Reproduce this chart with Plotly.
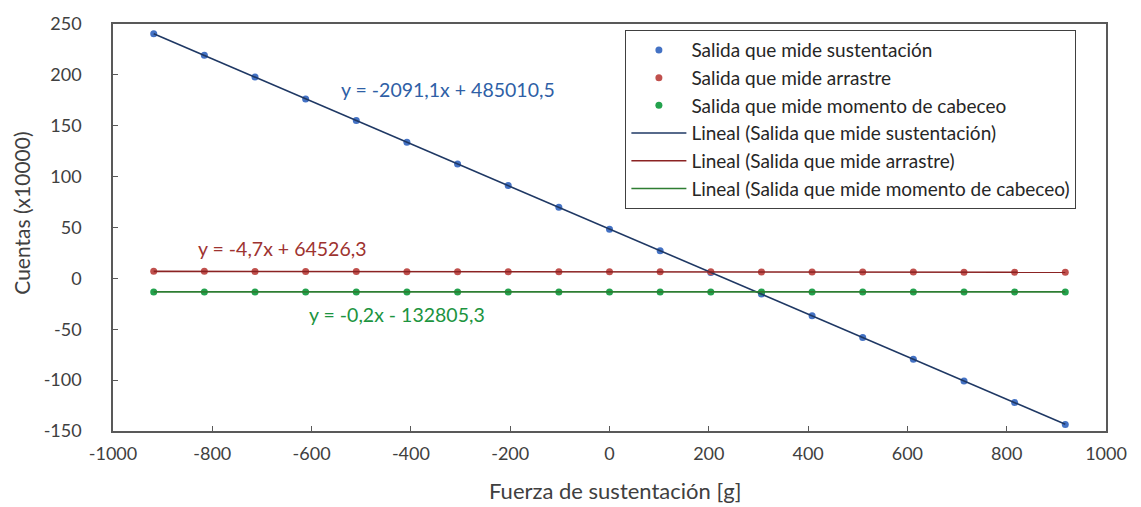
import plotly.graph_objects as go

# Applied load (g)
fuerza = [-918, -816, -714, -612, -510, -408, -306, -204, -102, 0,
          102, 204, 306, 408, 510, 612, 714, 816, 918]

# Bridge outputs, in counts x10000
sustentacion = [240.4, 219.2, 197.8, 176.4, 155.1, 133.9, 112.5, 91.2, 69.9, 48.4,
                27.2, 5.8, -15.4, -36.8, -58.2, -79.4, -100.8, -122.1, -143.5]
arrastre = [6.9, 6.9, 6.8, 6.7, 6.7, 6.6, 6.6, 6.5, 6.5, 6.5,
            6.4, 6.4, 6.3, 6.3, 6.2, 6.2, 6.1, 6.1, 6.0]
cabeceo = [-13.3, -13.3, -13.3, -13.3, -13.3, -13.3, -13.3, -13.3, -13.3, -13.3,
           -13.3, -13.3, -13.3, -13.3, -13.3, -13.3, -13.3, -13.3, -13.3]

# Linear trendline coefficients (counts per g, counts)
pendientes = [-2091.1, -4.7, -0.2]
ordenadas = [485010.5, 64526.3, -132805.3]
ecuaciones = ["y = -2091,1x + 485010,5", "y = -4,7x + 64526,3", "y = -0,2x - 132805,3"]

# Tick labels (plain hyphen for negatives)
x_ticks = [-1000, -800, -600, -400, -200, 0, 200, 400, 600, 800, 1000]
x_ticktext = ["-1000", "-800", "-600", "-400", "-200", "0", "200", "400", "600", "800", "1000"]
y_ticks = [-150, -100, -50, 0, 50, 100, 150, 200, 250]
y_ticktext = ["-150", "-100", "-50", "0", "50", "100", "150", "200", "250"]

nombres = ["Salida que mide sustentación", "Salida que mide arrastre",
           "Salida que mide momento de cabeceo"]
series = [sustentacion, arrastre, cabeceo]
col_marcador = ["#4472C4", "#C0504D", "#23A24D"]
col_linea = ["#1F3864", "#8B2323", "#2E7D32"]
col_texto = ["#2F5FA6", "#9E3330", "#1C9440"]
pos_ecuacion = [(-326, 186), (-659, 29.6), (-427, -35.6)]

FONT = "Lato, Carlito, Calibri, sans-serif"
fig = go.Figure()

for i, (nom, ys) in enumerate(zip(nombres, series)):
    fig.add_trace(go.Scatter(
        x=fuerza, y=ys, mode="markers", name=nom,
        marker=dict(color=col_marcador[i], size=7,
                    line=dict(color=col_marcador[i], width=0)),
    ))

xmin, xmax = min(fuerza), max(fuerza)
for i, nom in enumerate(nombres):
    m, b = pendientes[i], ordenadas[i]
    xs = [xmin, xmax]
    ys = [(m * x + b) / 10000 for x in xs]
    fig.add_trace(go.Scatter(
        x=xs, y=ys, mode="lines", name=f"Lineal ({nom})",
        line=dict(color=col_linea[i], width=1.6),
    ))

for i, txt in enumerate(ecuaciones):
    xa, ya = pos_ecuacion[i]
    fig.add_annotation(x=xa, y=ya, xref="x", yref="y", text=txt, showarrow=False,
                       font=dict(family=FONT, size=19.5, color=col_texto[i]))

# Axis titles
fig.add_annotation(x=0.5055, y=-0.145, xref="paper", yref="paper",
                   text="Fuerza de sustentación [g]", showarrow=False,
                   yanchor="middle",
                   font=dict(family=FONT, size=22, color="#404040"))
fig.add_annotation(x=-0.0916, y=0.534, xref="paper", yref="paper",
                   text="Cuentas (x10000)", showarrow=False, textangle=-90,
                   xanchor="center", yanchor="middle",
                   font=dict(family=FONT, size=21, color="#404040"))

axis_common = dict(
    showgrid=False, zeroline=False, showline=True, mirror=True,
    linecolor="#595959", linewidth=1.5,
    ticks="inside", ticklen=5, tickcolor="#595959", tickwidth=1.2,
    tickfont=dict(family=FONT, size=18, color="#404040"),
)

fig.update_layout(
    width=1141, height=507,
    margin=dict(l=113, r=35, t=19, b=76),
    paper_bgcolor="white", plot_bgcolor="white",
    font=dict(family=FONT, color="#404040"),
    showlegend=True,
    legend=dict(
        x=0.516, y=0.985, xanchor="left", yanchor="top",
        bgcolor="white", bordercolor="#404040", borderwidth=1,
        font=dict(family=FONT, size=19, color="#262626"),
        traceorder="normal", itemwidth=55,
    ),
    xaxis=dict(range=[-1000, 1000], tickmode="array", tickvals=x_ticks,
               ticktext=x_ticktext, ticklabelstandoff=6, **axis_common),
    yaxis=dict(range=[-150, 250], tickmode="array", tickvals=y_ticks,
               ticktext=y_ticktext, ticklabelstandoff=26, **axis_common),
)

fig.write_html("out.html")
